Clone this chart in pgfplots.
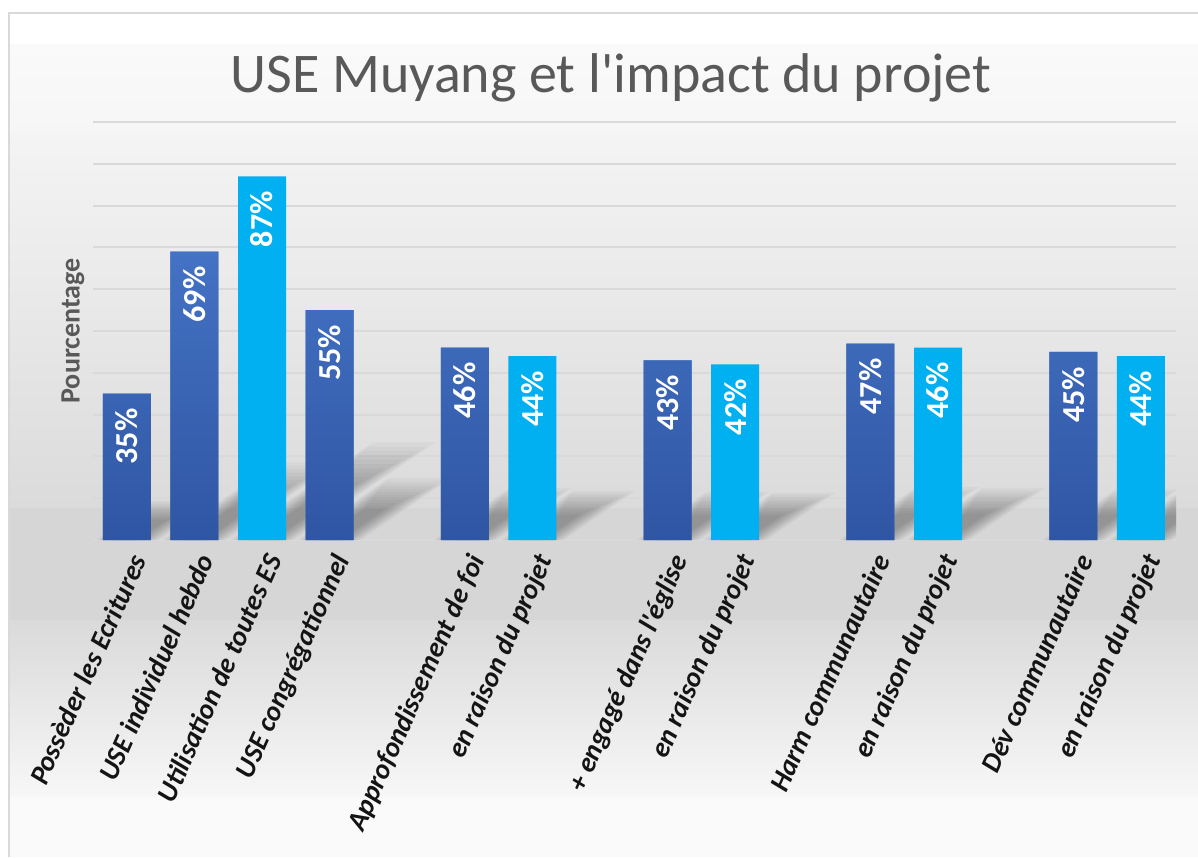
\documentclass[border=0pt]{standalone}
\usepackage{pgfplots}
\pgfplotsset{compat=1.18}
\usetikzlibrary{calc}
\usepackage{fontspec}
\setmainfont{Carlito}[Ligatures=TeXOff]
\definecolor{darkbA}{HTML}{4472C4}
\definecolor{darkbB}{HTML}{2F56A3}
\definecolor{lightb}{HTML}{00B0F0}
\definecolor{gridc}{HTML}{D9D9D9}
\definecolor{titlec}{HTML}{595959}
\definecolor{tickc}{HTML}{141414}
\definecolor{bgA}{HTML}{FAFAFA}
\definecolor{bgB}{HTML}{F6F6F6}
\definecolor{bgC}{HTML}{F4F4F4}
\definecolor{bgD}{HTML}{DBDBDB}
\definecolor{bgE}{HTML}{D6D6D6}
\definecolor{bgF}{HTML}{DADADA}
\definecolor{bgG}{HTML}{F7F7F7}
\newcommand{\shlayer}[2]{%
  \path ($(sa)!#1!(sb)$) coordinate (p1) ($(sb)!#1!(sa)$) coordinate (p2)
        ($(sc)!#1!(sd)$) coordinate (p3) ($(sd)!#1!(sc)$) coordinate (p4);
  \fill[black, opacity=0.027] (p1) -- (p2) -- ($(p2)!#2!(p3)$) -- ($(p1)!#2!(p4)$) -- cycle;
}
\newcommand{\shadowbar}[2]{%
  \path (axis cs:{#1-0.355},0) coordinate (sa)
        (axis cs:{#1+0.355},0) coordinate (sb)
        (axis cs:{#1+0.355+0.0216*#2},{0.24*#2}) coordinate (sc)
        (axis cs:{#1-0.355+0.0216*#2},{0.24*#2}) coordinate (sd);
  \shlayer{-0.15}{1.12}\shlayer{-0.11}{1.07}\shlayer{-0.07}{1.02}\shlayer{-0.03}{0.97}%
  \shlayer{0.01}{0.92}\shlayer{0.05}{0.87}\shlayer{0.09}{0.82}\shlayer{0.13}{0.77}%
  \shlayer{0.17}{0.72}\shlayer{0.21}{0.67}\shlayer{0.25}{0.62}\shlayer{0.29}{0.57}%
}
\begin{document}
\begin{tikzpicture}[x=0.75pt,y=-0.75pt]
\path[use as bounding box] (0,0) rectangle (1198,857);
\fill[white] (0,0) rectangle (1198,857);
\fill[white] (8,12) rectangle (1198,44);
\shade[top color=bgA, bottom color=bgB] (8,44) rectangle (1198,132.5);
\shade[top color=bgC, bottom color=bgD] (8,132) rectangle (1198,508.5);
\fill[bgE] (8,508) rectangle (1198,620.5);
\shade[top color=bgF, bottom color=bgG] (8,620) rectangle (1198,797.5);
\fill[bgA] (8,797) rectangle (1198,857);
\draw[gridc, line width=1.5pt] (9,857) -- (9,13) -- (1198,13);
\node[anchor=base, font=\fontsize{42}{50}\selectfont, text=titlec, inner sep=0pt] at (611,92) {USE Muyang et l'impact du projet};
\coordinate (O) at (93,540);
\begin{axis}[
  at={(O)}, anchor=south west,
  scale only axis,
  width=812.25pt, height=313.5pt,
  ymin=0, ymax=100,
  xmin=-0.5, xmax=15.52,
  ytick={0,10,...,100},
  yticklabels={},
  ymajorgrids,
  grid style={gridc, line width=1.5pt},
  axis line style={draw=none},
  xtick style={draw=none},
  ytick style={draw=none},
  /pgf/number format/assume math mode=true,
  xtick={0,1,2,3,5,6,8,9,11,12,14,15},
  xticklabels={Possèder les Ecritures, USE individuel hebdo, Utilisation de toutes ES, USE congrégationnel, Approfondissement de foi, en raison du projet, + engagé dans l'église, en raison du projet, Harm communautaire, en raison du projet, Dév communautaire, en raison du projet},
  xticklabel style={rotate=66, anchor=north east, text=tickc, font=\bfseries\itshape\fontsize{21}{25}\selectfont},
  ylabel={Pourcentage},
  ylabel style={at={(axis description cs:-0.0185,0.5)}, anchor=center, text=titlec, font=\bfseries\fontsize{21}{25}\selectfont},
  ybar, bar width=36pt, bar shift=0pt,
  nodes near coords={\pgfmathprintnumber{\pgfplotspointmeta}\%},
  nodes near coords style={rotate=90, anchor=east, text=white, inner xsep=11pt, font=\bfseries\fontsize{24}{28}\selectfont},
]
\shadowbar{0}{35}
\shadowbar{1}{69}
\shadowbar{2}{87}
\shadowbar{3}{55}
\shadowbar{5}{46}
\shadowbar{6}{44}
\shadowbar{8}{43}
\shadowbar{9}{42}
\shadowbar{11}{47}
\shadowbar{12}{46}
\shadowbar{14}{45}
\shadowbar{15}{44}
\addplot[draw=none, fill=darkbA, top color=darkbA, bottom color=darkbB] coordinates {(0,35) (1,69) (3,55) (5,46) (8,43) (11,47) (14,45)};
\addplot[draw=none, fill=lightb] coordinates {(2,87) (6,44) (9,42) (12,46) (15,44)};
\end{axis}
\end{tikzpicture}
\end{document}
